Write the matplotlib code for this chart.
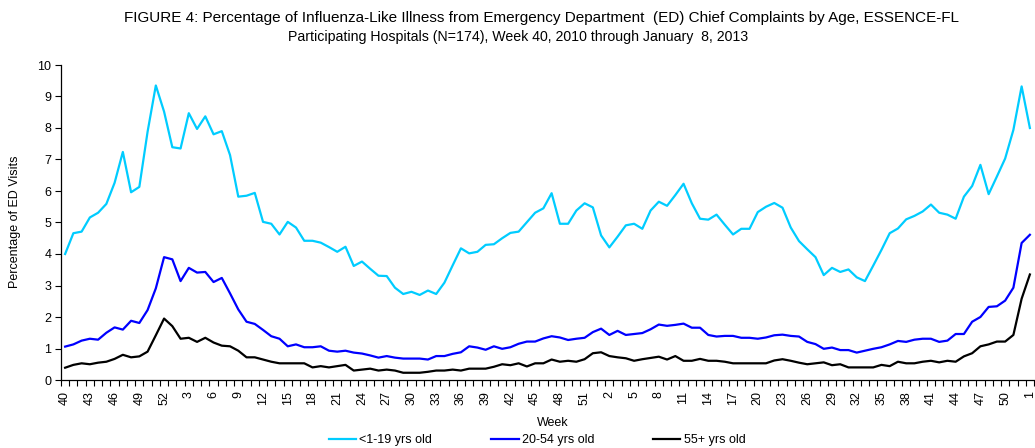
import numpy as np
import matplotlib
matplotlib.use('Agg')
import matplotlib.pyplot as plt

plt.rcParams['font.family'] = ['Liberation Sans', 'DejaVu Sans']

# week numbers: week 40 of 2010 through week 1 of 2013
weeks = list(range(40, 53)) + list(range(1, 53)) + list(range(1, 53)) + [1]

age_0_19 = [4.00, 4.66, 4.71, 5.16, 5.31, 5.59, 6.26, 7.24, 5.96, 6.13,
            7.88, 9.35, 8.52, 7.39, 7.35, 8.47, 7.97, 8.37, 7.80, 7.90,
            7.14, 5.82, 5.85, 5.94, 5.02, 4.96, 4.62, 5.02, 4.84, 4.42,
            4.42, 4.36, 4.22, 4.07, 4.23, 3.62, 3.76, 3.53, 3.31, 3.30,
            2.93, 2.73, 2.80, 2.70, 2.84, 2.73, 3.09, 3.64, 4.18, 4.02,
            4.07, 4.29, 4.31, 4.50, 4.67, 4.71, 5.01, 5.31, 5.45, 5.93,
            4.96, 4.96, 5.38, 5.61, 5.48, 4.59, 4.21, 4.55, 4.91, 4.96,
            4.80, 5.38, 5.66, 5.53, 5.87, 6.23, 5.61, 5.12, 5.09, 5.25,
            4.93, 4.62, 4.80, 4.80, 5.33, 5.50, 5.62, 5.47, 4.84, 4.41,
            4.15, 3.90, 3.33, 3.56, 3.43, 3.51, 3.26, 3.14, 3.63, 4.13,
            4.66, 4.81, 5.10, 5.21, 5.35, 5.57, 5.31, 5.25, 5.12, 5.82,
            6.16, 6.83, 5.90, 6.46, 7.03, 7.94, 9.32, 8.00]

age_20_54 = [1.06, 1.13, 1.25, 1.31, 1.28, 1.50, 1.67, 1.60, 1.88, 1.81,
             2.22, 2.91, 3.90, 3.83, 3.14, 3.56, 3.41, 3.43, 3.11, 3.24,
             2.75, 2.24, 1.85, 1.78, 1.59, 1.39, 1.31, 1.07, 1.13, 1.04,
             1.04, 1.07, 0.93, 0.90, 0.93, 0.87, 0.84, 0.78, 0.71, 0.76,
             0.71, 0.68, 0.68, 0.68, 0.65, 0.76, 0.76, 0.83, 0.88, 1.07,
             1.03, 0.96, 1.07, 0.99, 1.04, 1.15, 1.22, 1.22, 1.32, 1.39,
             1.35, 1.27, 1.31, 1.34, 1.52, 1.63, 1.43, 1.56, 1.43, 1.46,
             1.49, 1.61, 1.76, 1.72, 1.75, 1.79, 1.66, 1.66, 1.43, 1.38,
             1.40, 1.40, 1.34, 1.34, 1.31, 1.35, 1.42, 1.44, 1.40, 1.38,
             1.21, 1.14, 0.99, 1.03, 0.95, 0.95, 0.87, 0.93, 0.99, 1.04,
             1.13, 1.24, 1.21, 1.28, 1.31, 1.31, 1.21, 1.25, 1.46, 1.46,
             1.85, 2.00, 2.32, 2.34, 2.52, 2.93, 4.35, 4.61]

age_55_up = [0.39, 0.48, 0.53, 0.50, 0.55, 0.58, 0.67, 0.80, 0.72, 0.75,
             0.90, 1.42, 1.95, 1.71, 1.31, 1.34, 1.21, 1.34, 1.19, 1.09,
             1.07, 0.93, 0.72, 0.72, 0.65, 0.58, 0.53, 0.53, 0.53, 0.53,
             0.40, 0.44, 0.40, 0.44, 0.48, 0.30, 0.33, 0.36, 0.30, 0.33,
             0.30, 0.23, 0.23, 0.23, 0.26, 0.30, 0.30, 0.33, 0.30, 0.36,
             0.36, 0.36, 0.42, 0.50, 0.47, 0.53, 0.43, 0.53, 0.53, 0.65,
             0.58, 0.61, 0.58, 0.66, 0.85, 0.88, 0.76, 0.72, 0.69, 0.61,
             0.66, 0.70, 0.74, 0.65, 0.76, 0.61, 0.61, 0.67, 0.61, 0.61,
             0.58, 0.53, 0.53, 0.53, 0.53, 0.53, 0.62, 0.66, 0.61, 0.55,
             0.50, 0.53, 0.56, 0.47, 0.50, 0.40, 0.40, 0.40, 0.40, 0.48,
             0.44, 0.58, 0.53, 0.53, 0.58, 0.61, 0.56, 0.61, 0.58, 0.75,
             0.85, 1.07, 1.13, 1.22, 1.22, 1.43, 2.58, 3.35]

series = [(age_0_19, '#00CCFF', '<1-19 yrs old'),
          (age_20_54, '#0000FF', '20-54 yrs old'),
          (age_55_up, '#000000', '55+ yrs old')]

W, H = 1035, 448
FS = 9
fig = plt.figure(figsize=(W / 100, H / 100), dpi=100)
fig.patch.set_facecolor('white')
ax = fig.add_axes([61 / W, 68 / H, (1034 - 61) / W, 315 / H])

x = np.arange(len(weeks))
handles = []
for vals, col, lab in series:
    h, = ax.plot(x, vals, color=col, lw=1.6, label=lab)
    handles.append(h)

ax.set_xlim(-0.5, len(weeks) - 0.5)
ax.set_ylim(0, 10)
ax.set_yticks(range(0, 11))
ax.tick_params(axis='y', direction='out', length=4, width=0.8, labelsize=FS, pad=3)

ax.set_xticks(x[::3])
ax.set_xticklabels([str(w) for w in weeks[::3]], rotation=90)
ax.set_xticks(np.arange(-0.5, len(weeks), 1), minor=True)
ax.tick_params(axis='x', which='major', length=0, labelsize=FS, pad=8)
ax.tick_params(axis='x', which='minor', direction='out', length=4, width=0.8)

for s in ('top', 'right'):
    ax.spines[s].set_visible(False)
for s in ('left', 'bottom'):
    ax.spines[s].set_linewidth(0.9)

fig.text(15 / W, (448 - 222) / H, 'Percentage of ED Visits',
         rotation=90, ha='center', va='center', fontsize=FS)
fig.text(553 / W, (448 - 423) / H, 'Week', ha='center', va='center', fontsize=FS)

fig.text(542 / W, (448 - 18) / H,
         'FIGURE 4: Percentage of Influenza-Like Illness from Emergency Department  (ED) Chief Complaints by Age, ESSENCE-FL',
         ha='center', va='center', fontsize=11)
fig.text(518 / W, (448 - 37) / H,
         'Participating Hospitals (N=174), Week 40, 2010 through January  8, 2013',
         ha='center', va='center', fontsize=10.2)

fig.legend(handles=handles, loc='center', bbox_to_anchor=(537 / W, (448 - 440) / H),
           ncol=3, frameon=False, fontsize=FS, handlelength=2.2, handletextpad=0.25,
           columnspacing=4.7, borderpad=0, borderaxespad=0)

fig.savefig('out.png', dpi=100, facecolor='white')
